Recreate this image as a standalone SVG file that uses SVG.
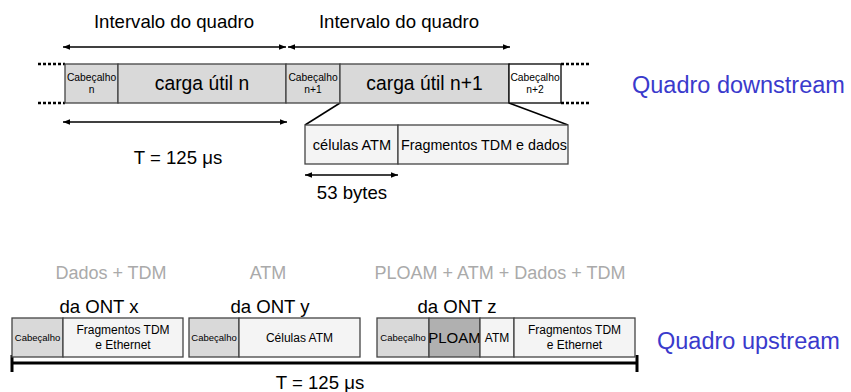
<svg xmlns="http://www.w3.org/2000/svg" width="851" height="392" viewBox="0 0 851 392">
<defs>
<marker id="ah" viewBox="0 0 10 10" refX="10" refY="5" markerWidth="7" markerHeight="7" orient="auto-start-reverse" markerUnits="userSpaceOnUse"><path d="M0,1 L10,5 L0,9 z" fill="#000"/></marker>
<style>
text{font-family:"Liberation Sans",Arial,sans-serif;fill:#000;text-anchor:middle}
.hd{fill:#d9d9d9;stroke:#444;stroke-width:1.3}
.lt{fill:#f4f4f4;stroke:#444;stroke-width:1.3}
.wh{fill:#fff;stroke:#000;stroke-width:1.3}
.pl{fill:#b0b0b0;stroke:#444;stroke-width:1.3}
.arr{stroke:#000;stroke-width:1.5;fill:none;marker-start:url(#ah);marker-end:url(#ah)}
.dot{stroke:#000;stroke-width:2.5;stroke-dasharray:3,2;fill:none}
.sm{font-size:10.3px}
.su{font-size:9.5px}
.big{font-size:18.6px}
.cg{font-size:19.3px}
.md{font-size:12px}
.ml{font-size:14.6px}
.gr{fill:#aaa;font-size:18px}
.blue{fill:#3a3acc;font-size:23.5px;text-anchor:start}
</style>
</defs>
<g id="connectors">
<line class="arr" x1="63" y1="47" x2="286" y2="47"/>
<line class="arr" x1="288" y1="47" x2="510" y2="47"/>
<line class="arr" x1="63" y1="122" x2="287" y2="122"/>
<line class="arr" x1="305" y1="175" x2="398" y2="175"/>
<path class="dot" d="M38,64 H65 M38,103 H65 M561,64 H590 M561,103 H590"/>
<line x1="340" y1="103" x2="305" y2="125" stroke="#000" stroke-width="1.5"/>
<line x1="509" y1="103" x2="568" y2="125" stroke="#000" stroke-width="1.5"/>
<line x1="12" y1="363" x2="637" y2="363" stroke="#000" stroke-width="3"/>
<line x1="12" y1="355" x2="12" y2="372" stroke="#000" stroke-width="3"/>
<line x1="637" y1="355" x2="637" y2="372" stroke="#000" stroke-width="3"/>
</g>
<g id="labels-top">
<text class="big" x="174" y="28">Intervalo do quadro</text>
<text class="big" x="399" y="28">Intervalo do quadro</text>
<text class="big" x="178" y="164">T = 125 μs</text>
<text class="big" x="352" y="199">53 bytes</text>
<text class="blue" x="632" y="93">Quadro downstream</text>
</g>
<g id="hdr-n"><rect class="hd" x="65" y="64" width="53" height="39"/><text class="sm" x="91.5" y="81">Cabeçalho</text><text class="sm" x="91.5" y="93">n</text></g>
<g id="carga-n"><rect class="hd" x="118" y="64" width="168" height="39"/><text class="cg" x="202" y="90">carga útil n</text></g>
<g id="hdr-n1"><rect class="hd" x="286" y="64" width="54" height="39"/><text class="sm" x="313" y="81">Cabeçalho</text><text class="sm" x="313" y="93">n+1</text></g>
<g id="carga-n1"><rect class="hd" x="340" y="64" width="169" height="39"/><text class="cg" x="424.5" y="90">carga útil n+1</text></g>
<g id="hdr-n2"><rect class="wh" x="509" y="64" width="52" height="39"/><text class="sm" x="535" y="81">Cabeçalho</text><text class="sm" x="535" y="93">n+2</text></g>
<g id="celulas"><rect class="lt" x="305" y="125" width="93" height="39"/><text class="ml" x="352" y="150">células ATM</text></g>
<g id="fragmentos"><rect class="lt" x="398" y="125" width="170" height="39"/><text class="ml" x="484" y="150" textLength="166" lengthAdjust="spacingAndGlyphs">Fragmentos TDM e dados</text></g>
<g id="labels-bottom">
<text class="gr" x="111" y="279">Dados + TDM</text>
<text class="gr" x="268" y="279">ATM</text>
<text class="gr" x="500" y="279">PLOAM + ATM + Dados + TDM</text>
<text class="big" x="99" y="313">da ONT x</text>
<text class="big" x="270" y="313">da ONT y</text>
<text class="big" x="457" y="313">da ONT z</text>
<text class="big" x="320" y="389">T = 125 μs</text>
<text class="blue" x="657" y="349">Quadro upstream</text>
</g>
<g id="ont-x"><rect class="hd" x="12" y="318" width="51" height="39"/><text class="su" x="37.5" y="341">Cabeçalho</text><rect class="lt" x="63" y="318" width="120" height="39"/><text class="md" x="123" y="334">Fragmentos TDM</text><text class="md" x="123" y="349">e Ethernet</text></g>
<g id="ont-y"><rect class="hd" x="189" y="318" width="50" height="39"/><text class="su" x="214" y="341">Cabeçalho</text><rect class="lt" x="239" y="318" width="121" height="39"/><text class="md" x="299.5" y="342">Células ATM</text></g>
<g id="ont-z"><rect class="hd" x="377" y="318" width="52" height="39"/><text class="su" x="403" y="341">Cabeçalho</text><rect class="pl" x="429" y="318" width="51" height="39"/><text style="font-size:15px" x="454.5" y="343">PLOAM</text><rect class="lt" x="480" y="318" width="34" height="39"/><text class="md" x="497" y="342">ATM</text><rect class="lt" x="514" y="318" width="121" height="39"/><text class="md" x="574.5" y="334">Fragmentos TDM</text><text class="md" x="574.5" y="349">e Ethernet</text></g>
</svg>
